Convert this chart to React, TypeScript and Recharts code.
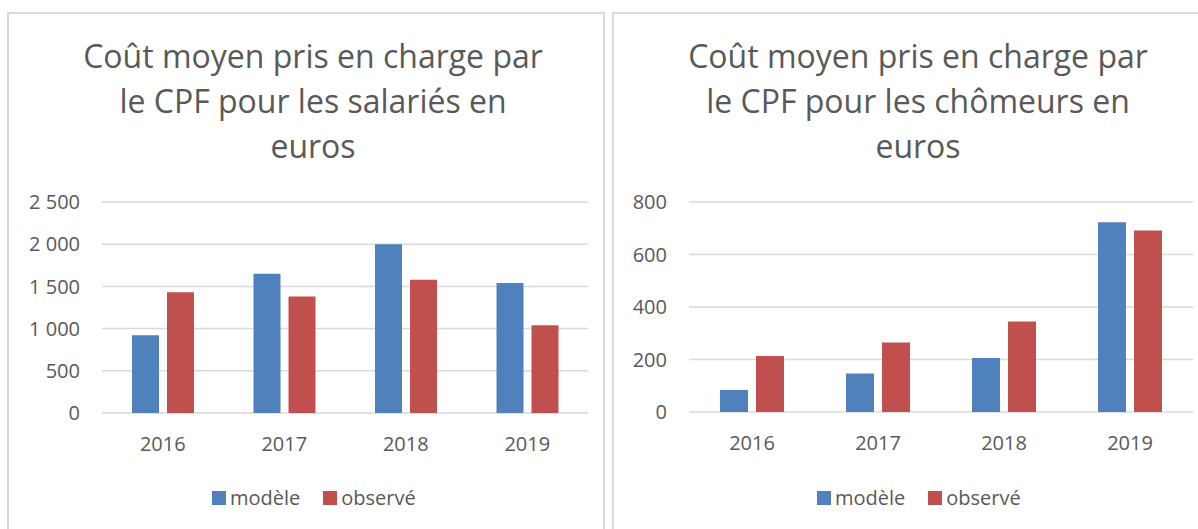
import React from 'react';
import { BarChart, Bar, XAxis, YAxis, CartesianGrid, Legend } from 'recharts';

const years = ['2016', '2017', '2018', '2019'];
const salariesModele = [920, 1650, 2000, 1540];
const salariesObserve = [1430, 1380, 1580, 1040];
const chomeursModele = [84, 147, 206, 723];
const chomeursObserve = [213, 265, 345, 691];
const salariesTicks = [0, 500, 1000, 1500, 2000, 2500];
const chomeursTicks = [0, 200, 400, 600, 800];

const FONT = "'Open Sans', Lato, sans-serif";
const TEXT = '#595959';
const BLUE = '#4f81bd';
const RED = '#c0504d';
const GRID = '#d9d9d9';

const salariesData = years.map((y, i) => ({ year: y, modele: salariesModele[i], observe: salariesObserve[i] }));
const chomeursData = years.map((y, i) => ({ year: y, modele: chomeursModele[i], observe: chomeursObserve[i] }));

const fmt = (v: number) => String(v).replace(/\B(?=(\d{3})+(?!\d))/g, ' ');

const renderLegend = (props: any) => (
  <div style={{ display: 'flex', alignItems: 'center', fontFamily: FONT, fontSize: 20, color: TEXT, lineHeight: '24px' }}>
    {props.payload.map((entry: any, i: number) => (
      <div key={`leg-${i}`} style={{ display: 'flex', alignItems: 'center', marginRight: i === 0 ? 23 : 0 }}>
        <span style={{ display: 'inline-block', width: 14, height: 14, background: entry.color, marginRight: 4 }} />
        <span>{entry.value}</span>
      </div>
    ))}
  </div>
);

const Title = ({ lines, center }: { lines: string[]; center: number }) => (
  <div
    style={{
      position: 'absolute',
      left: center - 300,
      top: 33,
      width: 600,
      textAlign: 'center',
      fontFamily: FONT,
      fontSize: 32,
      lineHeight: '45px',
      color: TEXT,
    }}
  >
    {lines.map((l, i) => (
      <div key={i}>{l}</div>
    ))}
  </div>
);

const CostChart = ({ data, ticks, left, yWidth, rightMargin, bottomMargin, barSize, legendLeft }: any) => (
  <div style={{ position: 'absolute', left, top: 180 }}>
    <BarChart
      width={598}
      height={349}
      data={data}
      margin={{ top: 22, right: rightMargin, left: 0, bottom: bottomMargin }}
      barGap={8}
    >
      <CartesianGrid vertical={false} stroke={GRID} strokeWidth={1.5} />
      <XAxis
        dataKey="year"
        axisLine={false}
        tickLine={false}
        tickSize={0}
        tickMargin={24}
        height={30}
        tick={{ fontFamily: FONT, fontSize: 20, fill: TEXT }}
      />
      <YAxis
        domain={[0, ticks[ticks.length - 1]]}
        ticks={ticks}
        axisLine={false}
        tickLine={false}
        tickSize={0}
        tickMargin={22}
        width={yWidth}
        tickFormatter={fmt}
        tick={{ fontFamily: FONT, fontSize: 20, fill: TEXT }}
      />
      <Legend
        verticalAlign="middle"
        align="center"
        content={renderLegend}
        wrapperStyle={{ left: legendLeft, top: 306, width: 'auto' }}
      />
      <Bar dataKey="modele" name="modèle" fill={BLUE} barSize={barSize} isAnimationActive={false} />
      <Bar dataKey="observe" name="observé" fill={RED} barSize={barSize} isAnimationActive={false} />
    </BarChart>
  </div>
);

export default function App() {
  return (
    <div style={{ position: 'absolute', left: 0, top: 0, width: 1198, height: 529, overflow: 'hidden', background: '#fff' }}>
      <div
        style={{
          position: 'absolute',
          left: 7,
          top: 12,
          width: 594,
          height: 540,
          borderTop: `2px solid ${GRID}`,
          borderLeft: `2px solid ${GRID}`,
          borderRight: `2px solid ${GRID}`,
        }}
      />
      <div
        style={{
          position: 'absolute',
          left: 612,
          top: 12,
          width: 620,
          height: 540,
          borderTop: `2px solid ${GRID}`,
          borderLeft: `2px solid ${GRID}`,
        }}
      />
      <Title lines={['Coût moyen pris en charge par', 'le CPF pour les salariés en', 'euros']} center={313} />
      <Title lines={['Coût moyen pris en charge par', 'le CPF pour les chômeurs en', 'euros']} center={918} />
      <CostChart
        data={salariesData}
        ticks={salariesTicks}
        left={0}
        yWidth={102}
        rightMargin={10}
        bottomMargin={86}
        barSize={27}
        legendLeft={212}
      />
      <CostChart
        data={chomeursData}
        ticks={chomeursTicks}
        left={600}
        yWidth={89}
        rightMargin={5}
        bottomMargin={87}
        barSize={28}
        legendLeft={217}
      />
    </div>
  );
}
